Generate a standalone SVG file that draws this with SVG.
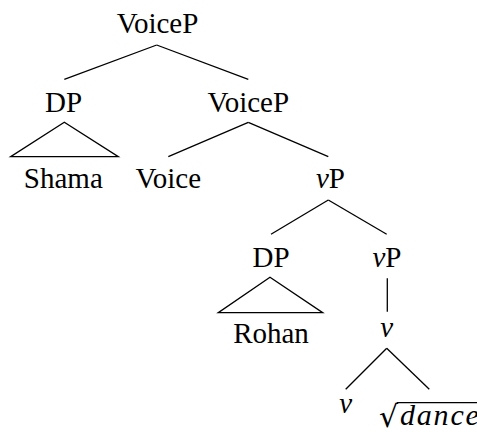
<svg xmlns="http://www.w3.org/2000/svg" width="477" height="432" viewBox="0 0 477 432">
<style>
.t{font-family:"Liberation Serif","Times New Roman",serif;font-size:29px;fill:#000;text-anchor:middle}
.i{font-style:italic}
.e{stroke:#000;stroke-width:1.3;fill:none}
</style>
<rect width="477" height="432" fill="#fff"/>
<g id="edges" class="e">
<line x1="156.7" y1="45" x2="64.3" y2="79.3"/>
<line x1="156.7" y1="45" x2="248.3" y2="79.3"/>
<polygon points="64.3,122.3 10.7,156.7 118.3,156.7"/>
<line x1="248.3" y1="122.3" x2="168.3" y2="156.7"/>
<line x1="248.3" y1="122.3" x2="328.3" y2="156.7"/>
<line x1="328.3" y1="200" x2="271" y2="234.3"/>
<line x1="328.3" y1="200" x2="386.7" y2="234.3"/>
<polygon points="270,277.3 218.3,312.7 322.7,312.7"/>
<line x1="387.3" y1="278.3" x2="387.3" y2="311.7"/>
<line x1="386.7" y1="348.3" x2="345.7" y2="389.3"/>
<line x1="386.7" y1="348.3" x2="429.3" y2="389.3"/>
</g>
<g id="n-voicep-top"><text class="t" x="157.5" y="33">VoiceP</text></g>
<g id="n-dp1"><text class="t" x="63.5" y="111.7">DP</text></g>
<g id="n-voicep2"><text class="t" x="248.3" y="111.7">VoiceP</text></g>
<g id="n-shama"><text class="t" x="63.3" y="188">Shama</text></g>
<g id="n-voice"><text class="t" x="168.3" y="188">Voice</text></g>
<g id="n-vp1"><text class="t" x="330.5" y="188"><tspan class="i">v</tspan>P</text></g>
<g id="n-dp2"><text class="t" x="271" y="266.7">DP</text></g>
<g id="n-vp2"><text class="t" x="387" y="266.7"><tspan class="i">v</tspan>P</text></g>
<g id="n-rohan"><text class="t" x="271" y="343">Rohan</text></g>
<g id="n-v1"><text class="t i" x="386.7" y="336.7">v</text></g>
<g id="n-v2"><text class="t i" x="345.8" y="413.3">v</text></g>
<g id="n-dance">
<text class="t" x="379" y="427" style="text-anchor:start;font-family:'DejaVu Serif',serif;font-size:30px">√<tspan class="i" x="400" y="425" style="font-family:'Liberation Serif',serif" letter-spacing="1.8">dance</tspan></text>
<line class="e" x1="396.7" y1="402.7" x2="477" y2="402.7"/>
</g>
</svg>
